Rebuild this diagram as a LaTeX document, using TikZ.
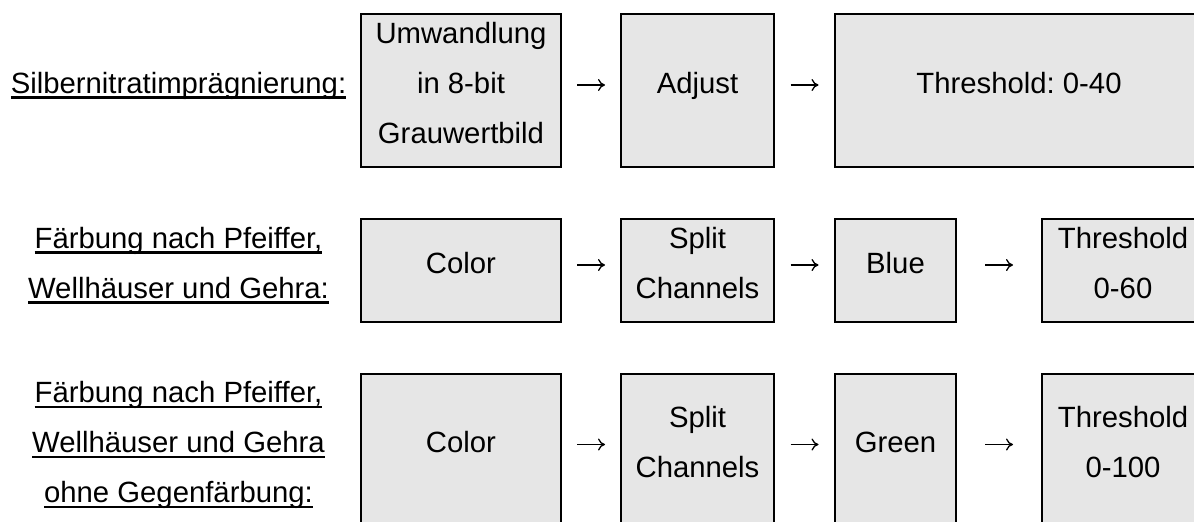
\documentclass[tikz,border=0pt]{standalone}
\usepackage{fontspec}
\setmainfont{Liberation Sans}
\usetikzlibrary{arrows.meta}
\frenchspacing
\definecolor{boxgray}{RGB}{230,230,230}
\newcommand\myfont{\fontsize{29.3pt}{50pt}\selectfont}
\newcommand\mystrut{\rule[-22.5pt]{0pt}{50pt}}
\newsavebox\myulbox
\newcommand\myul[1]{\sbox\myulbox{#1}\rlap{\rule[-5.8pt]{\wd\myulbox}{2.8pt}}\usebox\myulbox}
\begin{document}
\begin{tikzpicture}[x=1pt,y=-1pt,
  box/.style={draw=black,line width=1.5pt,fill=boxgray,inner sep=0pt,outer sep=0pt,align=center,font=\myfont},
  lab/.style={inner sep=0pt,align=center,font=\myfont},
  arr/.style={line width=1.3pt,-{To[length=7pt,width=12pt]}}]
\useasboundingbox (0,0) rectangle (1194,522);
\clip (0,0) rectangle (1194,522);
% row 1
\node[lab] (l1) at (178.5,90.5) {\mystrut\myul{Silbernitratimprägnierung:}};
\node[box,minimum width=200pt,minimum height=153pt] (a1) at (461,90.5) {\mystrut Umwandlung\\\mystrut in 8-bit\\\mystrut Grauwertbild};
\node[box,minimum width=153pt,minimum height=153pt] (b1) at (697.5,90.5) {\mystrut Adjust};
\node[box,minimum width=368pt,minimum height=153pt] (c1) at (1019,90.5) {\mystrut Threshold: 0-40};
\draw[arr,shorten <=16pt,shorten >=16pt] ([yshift=5.5pt]a1.east) -- ([yshift=5.5pt]b1.west);
\draw[arr,shorten <=16.5pt,shorten >=16.5pt] ([yshift=5.5pt]b1.east) -- ([yshift=5.5pt]c1.west);
% row 2
\node[lab] (l2) at (178.5,270.5) {\mystrut\myul{Färbung nach Pfeiffer,}\\\mystrut\myul{Wellhäuser und Gehra:}};
\node[box,minimum width=200pt,minimum height=103pt] (a2) at (461,270.5) {\mystrut Color};
\node[box,minimum width=153pt,minimum height=103pt] (b2) at (697.5,270.5) {\mystrut Split\\\mystrut Channels};
\node[box,minimum width=121pt,minimum height=103pt] (c2) at (895.5,270.5) {\mystrut Blue};
\node[box,minimum width=162pt,minimum height=103pt] (d2) at (1123,270.5) {\mystrut Threshold\\\mystrut 0-60};
\draw[arr,shorten <=16pt,shorten >=16pt] ([yshift=5.5pt]a2.east) -- ([yshift=5.5pt]b2.west);
\draw[arr,shorten <=16.5pt,shorten >=16.5pt] ([yshift=5.5pt]b2.east) -- ([yshift=5.5pt]c2.west);
\draw[arr,shorten <=29pt,shorten >=29pt] ([yshift=5.5pt]c2.east) -- ([yshift=5.5pt]d2.west);
% row 3
\node[lab] (l3) at (178.5,450) {\mystrut\myul{Färbung nach Pfeiffer,}\\\mystrut\myul{Wellhäuser und Gehra}\\\mystrut\myul{ohne Gegenfärbung:}};
\node[box,minimum width=200pt,minimum height=152pt] (a3) at (461,450) {\mystrut Color};
\node[box,minimum width=153pt,minimum height=152pt] (b3) at (697.5,450) {\mystrut Split\\\mystrut Channels};
\node[box,minimum width=121pt,minimum height=152pt] (c3) at (895.5,450) {\mystrut Green};
\node[box,minimum width=162pt,minimum height=152pt] (d3) at (1123,450) {\mystrut Threshold\\\mystrut 0-100};
\draw[arr,shorten <=16pt,shorten >=16pt] ([yshift=5.5pt]a3.east) -- ([yshift=5.5pt]b3.west);
\draw[arr,shorten <=16.5pt,shorten >=16.5pt] ([yshift=5.5pt]b3.east) -- ([yshift=5.5pt]c3.west);
\draw[arr,shorten <=29pt,shorten >=29pt] ([yshift=5.5pt]c3.east) -- ([yshift=5.5pt]d3.west);
\end{tikzpicture}
\end{document}
